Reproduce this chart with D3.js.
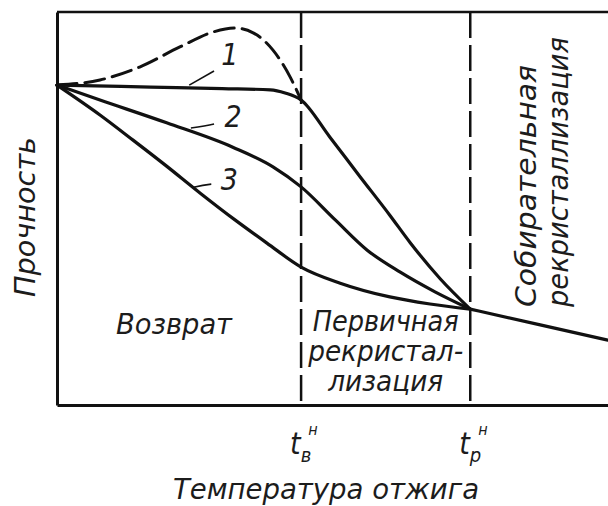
<!DOCTYPE html>
<html>
<head>
<meta charset="utf-8">
<script src="https://cdn.jsdelivr.net/npm/d3@7"></script>
<style>
  html, body { margin: 0; padding: 0; background: #fff; }
  svg { display: block; }
  text {
    font-family: "DejaVu Sans Condensed", "DejaVu Sans", sans-serif;
    font-style: italic;
    fill: #1c1c1c;
  }
</style>
</head>
<body>
<svg id="chart" width="608" height="506"></svg>
<script>
// Strength of a cold-worked metal versus annealing temperature.
// Both axes are in arbitrary units (0–100).

// Characteristic temperatures marked on the x axis
const tickValues = [44.3, 75];
const tickBase = ["t", "t"];
const tickSub = ["в", "р"];
const tickSup = ["н", "н"];

// Curve 1, solid branch
const curve1 = [
  [0, 81.4], [17, 80.9], [30, 80.5], [38.7, 80.2], [41.4, 79.4],
  [44.3, 77.6], [49.5, 68.2], [55, 58.1], [60.4, 48.3], [64.1, 41.3],
  [69.5, 32.2], [75, 24.4]
];
// Curve 1, dashed branch (strength rise during recovery)
const curve1Rise = [
  [0, 81.4], [7.8, 82.7], [15, 86], [22.3, 91.1], [28.3, 94.9],
  [32.3, 95.9], [35.6, 94.7], [39.2, 90.3], [42.3, 83.5], [44.3, 77.6]
];
// Curve 2
const curve2 = [
  [0, 81.4], [7.8, 77.6], [19.9, 71.8], [31.9, 65.6], [39.2, 60.6],
  [44.3, 55.5], [50.5, 47.1], [56.3, 39.4], [62.3, 33.8], [68.6, 28.8],
  [75, 24.4]
];
// Curve 3
const curve3 = [
  [0, 81.4], [7.8, 73.8], [13.8, 67.4], [19.6, 61.1], [26, 53.9],
  [32.3, 47.1], [38.1, 41.2], [44.3, 35.1], [51.4, 31], [60.4, 27.5],
  [67.7, 25.7], [75, 24.4]
];
// Common branch during grain growth
const grainGrowth = [[75, 24.4], [87.7, 20.4], [100, 16.5]];

const curveNames = ["1", "2", "3"];

const svg = d3.select("#chart");
const margin = { left: 57, top: 12, right: 0, bottom: 101 };
const W = +svg.attr("width"), H = +svg.attr("height");

const x = d3.scaleLinear().domain([0, 100]).range([margin.left, W - margin.right]);
const y = d3.scaleLinear().domain([0, 100]).range([H - margin.bottom, margin.top]);

const ink = "#111";

// Frame: bottom axis, left axis, top rule
const xAxis = d3.axisBottom(x).tickValues(tickValues).tickSize(0).tickFormat("");
svg.append("g")
  .attr("transform", `translate(0,${y(0)})`)
  .call(xAxis)
  .call(g => g.select(".domain").attr("stroke", ink).attr("stroke-width", 3));

const yAxis = d3.axisLeft(y).tickValues([]).tickSize(0);
svg.append("g")
  .attr("transform", `translate(${x(0)},0)`)
  .call(yAxis)
  .call(g => g.select(".domain").attr("stroke", ink).attr("stroke-width", 3));

svg.append("line")
  .attr("x1", x(0)).attr("x2", x(100))
  .attr("y1", y(100)).attr("y2", y(100))
  .attr("stroke", ink).attr("stroke-width", 2.5);

// Stage boundaries
svg.selectAll("line.stage")
  .data(tickValues)
  .join("line")
  .attr("class", "stage")
  .attr("x1", d => x(d)).attr("x2", d => x(d))
  .attr("y1", y(100)).attr("y2", y(0))
  .attr("stroke", ink).attr("stroke-width", 2.5)
  .attr("stroke-dasharray", "26,7");

// Curves
const line = d3.line()
  .x(d => x(d[0])).y(d => y(d[1]))
  .curve(d3.curveMonotoneX);

const curvesG = svg.append("g")
  .attr("fill", "none")
  .attr("stroke", ink)
  .attr("stroke-linejoin", "round")
  .attr("stroke-linecap", "round");

curvesG.append("path").attr("d", line(curve1Rise))
  .attr("stroke-width", 3).attr("stroke-dasharray", "20,8");
[curve1, curve2, curve3, grainGrowth].forEach(c => {
  curvesG.append("path").attr("d", line(c)).attr("stroke-width", 3.2);
});

// Curve numbers with leader strokes (data units)
const callouts = [
  { from: [24, 81.4], ctrl: [26, 83], to: [28.5, 85], at: [29.8, 86.5] },
  { from: [24.3, 70.5], ctrl: [27, 71], to: [28.5, 71.5], at: [30.4, 70.8] },
  { from: [24.8, 55.4], ctrl: [26.5, 56], to: [28, 56.2], at: [29.7, 54.6] }
];
callouts.forEach((c, i) => {
  const p = d3.path();
  p.moveTo(x(c.from[0]), y(c.from[1]));
  p.quadraticCurveTo(x(c.ctrl[0]), y(c.ctrl[1]), x(c.to[0]), y(c.to[1]));
  svg.append("path").attr("d", p.toString())
    .attr("fill", "none").attr("stroke", ink).attr("stroke-width", 1.6);
  svg.append("text")
    .attr("x", x(c.at[0])).attr("y", y(c.at[1]))
    .attr("font-size", 30)
    .text(curveNames[i]);
});

// Stage names
const stageText = (lines, cx, baselines, lengths) => {
  lines.forEach((t, i) => {
    svg.append("text")
      .attr("x", cx).attr("y", baselines[i])
      .attr("text-anchor", "middle")
      .attr("font-size", 28)
      .attr("textLength", lengths[i])
      .attr("lengthAdjust", "spacingAndGlyphs")
      .text(t);
  });
};
stageText(["Возврат"], (x(0) + x(tickValues[0])) / 2 - 5, [334], [116]);
stageText(["Первичная", "рекристал-", "лизация"],
  (x(tickValues[0]) + x(tickValues[1])) / 2, [331, 361, 391], [146, 155, 115]);

// Grain growth stage, written vertically
const vText = (t, cx, cy, len, size) => {
  svg.append("text")
    .attr("transform", `translate(${cx},${cy}) rotate(-90)`)
    .attr("text-anchor", "middle")
    .attr("font-size", size)
    .attr("textLength", len)
    .attr("lengthAdjust", "spacingAndGlyphs")
    .text(t);
};
vText("Собирательная", 536, 186, 242, 28);
vText("рекристаллизация", 568, 172, 270, 28);

// Y axis title
vText("Прочность", 35, 217, 160, 28);

// X axis tick labels: t with subscript and superscript
tickValues.forEach((v, i) => {
  const t = svg.append("text")
    .attr("x", x(v) - 11).attr("y", 454)
    .attr("font-size", 30);
  t.append("tspan").text(tickBase[i]);
  t.append("tspan").attr("font-size", 20).attr("dy", 8).text(tickSub[i]);
  t.append("tspan").attr("font-size", 16).attr("dx", -3).attr("dy", -27).text(tickSup[i]);
});

// X axis title
svg.append("text")
  .attr("x", 326).attr("y", 499)
  .attr("text-anchor", "middle")
  .attr("font-size", 28)
  .attr("textLength", 306)
  .attr("lengthAdjust", "spacingAndGlyphs")
  .text("Температура отжига");
</script>
</body>
</html>
